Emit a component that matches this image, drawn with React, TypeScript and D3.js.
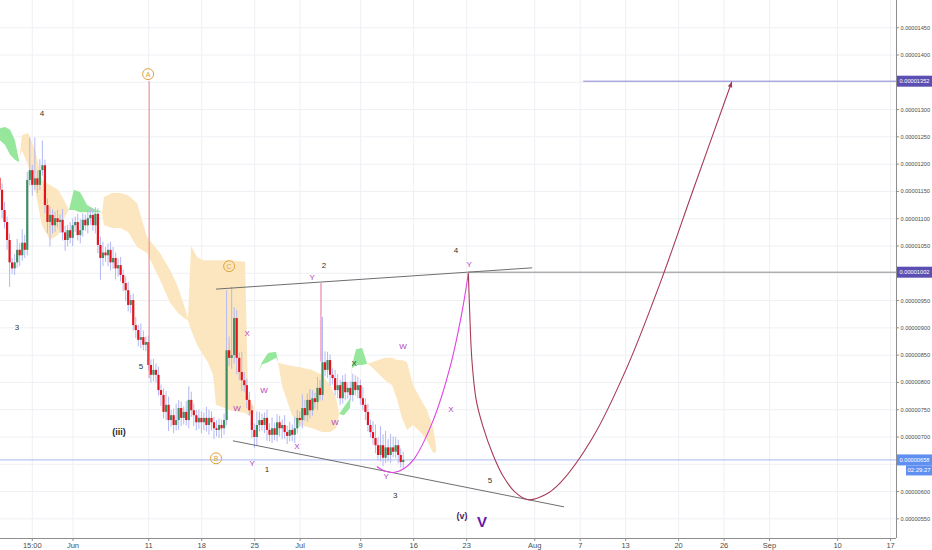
import React from "react";
import * as d3 from "d3";

const W = 932;
const H = 550;
const PLOT_R = 896;
const PLOT_B = 538;

// ---- candle data (prices in units of 1e-8) ----
const firstOpen = 1175;
const closes = [
  1153, 1116, 1094, 1061, 1020, 1009, 1020, 1043, 1033, 1056, 1043,
  1171, 1189, 1162, 1174, 1162, 1189, 1198,
  1125, 1094, 1107, 1088, 1101, 1094, 1098, 1075, 1061, 1079, 1065, 1088, 1094, 1070, 1079, 1098, 1088, 1101, 1107, 1088, 1109,
  1052, 1028, 1038, 1033, 1043, 1020, 1028, 1009, 1015, 997, 982, 969, 942, 951, 905, 896, 878, 883, 869, 874,
  832, 814, 823, 814, 786, 777, 746, 759, 731, 740, 722, 731, 753, 735, 746, 731, 768, 749, 740, 727, 735, 727, 735, 722, 735, 727, 716, 713, 722, 716, 731,
  859, 845, 850, 918, 845, 819, 804, 795, 768, 749,
  713, 700, 722, 731, 722, 735, 713, 704, 716, 704, 727, 716, 722, 709, 702, 713, 704, 716, 735, 731, 753, 740, 768, 749, 771, 764, 790, 777,
  837, 823, 841, 814, 808, 786, 795, 771, 801, 782, 790, 777, 801,
  786, 795, 771, 759, 746, 722, 709, 698, 685, 667, 685, 662, 681, 667, 681, 673, 685, 667, 654, 658,
];
const wickUp = [
  20, 12, 15, 10, 12, 8, 15, 20, 12, 25, 15,
  15, 60, 10, 75, 15, 20, 45,
  10, 12, 15, 10, 12, 15, 10, 20, 12, 10, 15, 12, 10, 15, 20, 12, 10, 15, 12, 10, 12,
  10, 15, 20, 10, 12, 15, 20, 10, 12, 15, 10, 12, 15, 10, 12, 15, 10, 25, 12, 10,
  12, 10, 20, 12, 15, 10, 12, 25, 15, 10, 12, 30, 15, 12, 10, 20, 25, 15, 12, 10, 15, 12, 10, 20, 15, 12, 10, 15, 12, 10, 12,
  110, 25, 125, 20, 15, 10, 37, 15, 12, 15,
  10, 12, 25, 15, 12, 10, 15, 12, 20, 10, 15, 12, 10, 18, 12, 15, 10, 20, 15, 12, 25, 15, 12, 20, 15, 10, 20, 15,
  83, 20, 15, 10, 12, 15, 20, 10, 12, 15, 10, 12, 15,
  12, 15, 10, 20, 12, 15, 10, 20, 25, 15, 35, 20, 30, 15, 25, 20, 15, 10, 12, 15,
];
const wickDn = [
  10, 15, 12, 18, 45, 10, 12, 10, 20, 10, 15,
  10, 10, 20, 10, 15, 10, 10,
  15, 20, 45, 15, 12, 10, 20, 15, 20, 12, 10, 15, 12, 10, 15, 12, 10, 15, 12, 10, 15,
  15, 40, 15, 12, 20, 15, 12, 20, 15, 12, 15, 20, 12, 15, 10, 15, 12, 15, 10, 12,
  10, 15, 12, 15, 10, 20, 12, 15, 20, 12, 15, 10, 18, 15, 12, 10, 15, 12, 20, 15, 12, 20, 15, 12, 18, 15, 20, 12, 15, 18, 12,
  10, 15, 20, 15, 30, 15, 20, 12, 15, 10,
  15, 20, 15, 12, 10, 15, 20, 12, 15, 10, 12, 15, 20, 12, 15, 10, 12, 15, 10, 12, 15, 10, 12, 15, 10, 12, 15, 10,
  10, 12, 15, 20, 12, 10, 15, 12, 10, 15, 12, 10, 12,
  10, 15, 12, 10, 15, 12, 10, 12, 15, 10, 12, 15, 10, 12, 15, 10, 12, 15, 10, 12,
];

// ---- Ichimoku cloud (bar index, span A, span B) ----
const cloudIdx = [
  0.2, 2.2, 4.2, 6.1, 7.7, 8.9, 11.3, 14.1, 16.8, 20.0, 23.2, 25.6, 27.5, 29.5, 31.9, 34.7, 37.5, 39.8, 40.6,
  41.4, 44.6, 47.8, 50.9, 54.5, 58.5, 63.6, 67.6, 70.7, 73.1, 74.7, 75.9, 78.3, 80.7, 82.6, 84.6, 85.8, 91.4,
  97.3, 98.5, 100.9, 102.5, 104.0, 106.4, 109.6, 110.4, 111.9, 115.9, 119.1, 123.9, 127.8, 131.0, 133.4,
  134.6, 136.5, 138.9, 139.7, 141.3, 143.7, 145.7, 147.6, 152.8, 155.6, 157.6, 159.5, 161.5, 163.9, 166.7,
  169.4, 171.8, 173.0,
];
const spanA = [
  1266, 1268, 1263, 1244, 1208, 1226, 1198, 1153, 1088, 1061, 1070, 1101, 1116, 1153, 1149, 1125, 1118, 1114, 1110,
  1088, 1083, 1083, 1076, 1048, 1037, 988, 946, 927, 918, 914, 896, 869, 850, 837, 814, 759, 749,
  744, 740, 744, 819, 837, 854, 856, 837, 795, 740, 722, 716, 709, 709, 716,
  742, 755, 771, 832, 861, 863, 834, 828, 804, 795, 768, 735, 713, 722, 709,
  694, 671, 672,
];
const spanB = [
  1244, 1235, 1217, 1208, 1204, 1253, 1257, 1226, 1171, 1162, 1153, 1134, 1116, 1116, 1112, 1112, 1112, 1112, 1110,
  1140, 1147, 1147, 1143, 1129, 1066, 1037, 1006, 975, 942, 918, 1050, 1030, 1024, 1024, 1024, 1024, 1024,
  1021, 777, 753, 819, 833, 837, 845, 837, 834, 830, 828, 823, 814, 795, 771,
  742, 740, 753, 826, 832, 832, 834, 837, 845, 845, 841, 841, 837, 795, 771,
  749, 718, 685,
];

// ---- axes ----
const priceGrid = [550, 600, 650, 700, 750, 800, 850, 900, 950, 1000, 1050, 1100, 1150, 1200, 1250, 1300, 1350, 1400, 1450];
const priceLabels = [550, 600, 700, 750, 800, 850, 900, 950, 1050, 1100, 1150, 1200, 1250, 1300, 1400, 1450];
const dateTickLabels = ["15:00", "Jun", "11", "18", "25", "Jul", "9", "16", "23", "Aug", "7", "13", "20", "26", "Sep", "10", "17"];
const dateTickDates = [
  Date.UTC(2018, 4, 26, 15), Date.UTC(2018, 5, 1), Date.UTC(2018, 5, 11), Date.UTC(2018, 5, 18), Date.UTC(2018, 5, 25),
  Date.UTC(2018, 6, 1), Date.UTC(2018, 6, 9), Date.UTC(2018, 6, 16), Date.UTC(2018, 6, 23), Date.UTC(2018, 7, 1),
  Date.UTC(2018, 7, 7), Date.UTC(2018, 7, 13), Date.UTC(2018, 7, 20), Date.UTC(2018, 7, 26), Date.UTC(2018, 8, 1),
  Date.UTC(2018, 8, 10), Date.UTC(2018, 8, 17),
];

// ---- drawings (bar index, price) ----
const upperTrend = [[85.8, 971], [211.1, 1010]];
const lowerTrend = [[92.5, 693], [223.7, 572]];
const lastPrice = 658;
const countdown = "02:29:27";
const level1002 = { start: 185.8, price: 1002 };
const level1352 = { start: 231.3, price: 1352 };
const lineA = { idx: 59.3, from: 1352, to: 808 };
const lineY2 = { idx: 127.4, from: 982, to: 838 };
const magentaPath = [
  [149.5, 646], [152.4, 638], [156.1, 635], [159.9, 641], [164.0, 658], [171.9, 731],
  [178.6, 829], [183.2, 927], [185.8, 1000],
];
const redPath = [
  [185.8, 1000], [186.3, 932], [187.2, 841], [188.9, 768], [191.6, 719], [195.6, 667], [199.6, 628],
  [204.3, 599], [209.6, 585], [216.2, 594], [222.2, 616], [235.2, 700], [248.7, 828], [261.8, 982],
  [274.9, 1153], [290.2, 1351],
];

const blackLabels = [
  { t: "4", i: 16.8, p: 1292 }, { t: "3", i: 6.9, p: 900 }, { t: "5", i: 56.1, p: 830 },
  { t: "2", i: 128.6, p: 1015 }, { t: "4", i: 180.9, p: 1041 }, { t: "1", i: 106.0, p: 641 },
  { t: "3", i: 156.8, p: 592 }, { t: "5", i: 194.4, p: 621 },
];
const purpleLabels = [
  { t: "X", i: 98.1, p: 889 }, { t: "W", i: 94.1, p: 753 }, { t: "W", i: 104.8, p: 786 },
  { t: "Y", i: 100.1, p: 651 }, { t: "X", i: 117.9, p: 682 }, { t: "W", i: 133.0, p: 727 },
  { t: "Y", i: 123.9, p: 993 }, { t: "W", i: 159.9, p: 865 }, { t: "X", i: 178.9, p: 751 },
  { t: "Y", i: 186.1, p: 1017 }, { t: "Y", i: 153.2, p: 627 },
];
const circleLabels = [
  { t: "A", i: 58.9, p: 1365 }, { t: "C", i: 91.0, p: 1013 }, { t: "B", i: 85.8, p: 661 },
];

const FONT = "'Liberation Sans', Arial, sans-serif";

const yS = d3.scaleLinear().domain([1400, 700]).range([55, 437]);
const tS = d3.scaleUtc()
  .domain([new Date(Date.UTC(2018, 5, 1)), new Date(Date.UTC(2018, 8, 17))])
  .range([73, 890.6]);
const START = Date.UTC(2018, 4, 22, 7);
const bx = (i: number) => tS(new Date(START + i * 8 * 3600 * 1000));

function cloudRuns() {
  type P = { i: number; a: number; b: number };
  const pts: P[] = [];
  for (let k = 0; k < cloudIdx.length; k++) {
    pts.push({ i: cloudIdx[k], a: spanA[k], b: spanB[k] });
    if (k < cloudIdx.length - 1) {
      const d1 = spanA[k] - spanB[k];
      const d2 = spanA[k + 1] - spanB[k + 1];
      if (d1 * d2 < 0) {
        const t = d1 / (d1 - d2);
        const i = cloudIdx[k] + t * (cloudIdx[k + 1] - cloudIdx[k]);
        const a = spanA[k] + t * (spanA[k + 1] - spanA[k]);
        pts.push({ i, a, b: a });
      }
    }
  }
  const runs: { sign: number; pts: P[] }[] = [];
  let cur: { sign: number; pts: P[] } = { sign: 0, pts: [] };
  for (const p of pts) {
    const d = p.a - p.b;
    const s = d > 0 ? 1 : d < 0 ? -1 : 0;
    if (s === 0) {
      cur.pts.push(p);
      if (cur.sign !== 0) runs.push(cur);
      cur = { sign: 0, pts: [p] };
    } else {
      if (cur.sign === 0) cur.sign = s;
      cur.pts.push(p);
    }
  }
  if (cur.sign !== 0) runs.push(cur);
  return runs;
}

function AxisLabel({ x, y, text, fill, len }: { x: number; y: number; text: string; fill: string; len: number }) {
  return (
    <text x={x} y={y} fontSize={6} fill={fill} dominantBaseline="central" textLength={len} lengthAdjust="spacingAndGlyphs">
      {text}
    </text>
  );
}

export default function App() {
  const opens = closes.map((c, i) => (i === 0 ? firstOpen : closes[i - 1]));
  const area = d3.area<any>()
    .x((d) => bx(d.i))
    .y0((d) => yS(d.b))
    .y1((d) => yS(d.a))
    .curve(d3.curveLinear);
  const runs = cloudRuns();

  const lineGen = d3.line<number[]>().x((d) => bx(d[0])).y((d) => yS(d[1]));
  const curveGen = d3.line<number[]>().x((d) => bx(d[0])).y((d) => yS(d[1])).curve(d3.curveCatmullRom.alpha(0.5));

  const n = redPath.length;
  const ex = bx(redPath[n - 1][0]), ey = yS(redPath[n - 1][1]);
  const px = bx(redPath[n - 2][0]), py = yS(redPath[n - 2][1]);
  const ang = Math.atan2(ey - py, ex - px);
  const ah = 6;
  const arrow = `M${ex},${ey} L${ex - ah * Math.cos(ang - 0.4)},${ey - ah * Math.sin(ang - 0.4)} L${ex - ah * Math.cos(ang + 0.4)},${ey - ah * Math.sin(ang + 0.4)} Z`;

  const fmt = (p: number) => (p / 1e8).toFixed(8);

  return (
    <svg width={W} height={H} style={{ position: "absolute", left: 0, top: 0, background: "#fff" }} fontFamily={FONT}>
      <defs>
        <clipPath id="plot">
          <rect x={0} y={0} width={PLOT_R} height={PLOT_B} />
        </clipPath>
      </defs>
      <rect x={0} y={0} width={W} height={H} fill="#fff" />
      <g clipPath="url(#plot)">
        {priceGrid.map((p) => (
          <line key={"hg" + p} x1={0} x2={PLOT_R} y1={yS(p)} y2={yS(p)} stroke="#eef0f4" strokeWidth={1} />
        ))}
        {dateTickDates.map((d, k) => (
          <line key={"vg" + k} x1={tS(new Date(d))} x2={tS(new Date(d))} y1={0} y2={PLOT_B} stroke="#eef0f4" strokeWidth={1} />
        ))}
        {runs.map((r, k) => (
          <path key={"c" + k} d={area(r.pts) || ""} fill={r.sign > 0 ? "#96e79c" : "#fce6bf"} />
        ))}
        <line x1={0} x2={PLOT_R} y1={yS(lastPrice)} y2={yS(lastPrice)} stroke="#a9b9f3" strokeWidth={1} />
        {closes.map((c, i) => {
          const o = opens[i];
          const hi = Math.max(o, c) + wickUp[i];
          const lo = Math.min(o, c) - wickDn[i];
          const x = bx(i);
          const up = c >= o;
          const yt = yS(Math.max(o, c));
          const yb = yS(Math.min(o, c));
          return (
            <g key={"k" + i}>
              <line x1={x} x2={x} y1={yS(hi)} y2={yS(lo)} stroke="#b3b8f0" strokeWidth={1} />
              <rect x={x - 1.1} y={yt} width={2.2} height={Math.max(1, yb - yt)} fill={up ? "#3d8d63" : "#e3141e"} />
            </g>
          );
        })}
        <line x1={bx(level1002.start)} x2={PLOT_R} y1={yS(level1002.price)} y2={yS(level1002.price)} stroke="#8d8d8d" strokeWidth={1} />
        <line x1={bx(level1352.start)} x2={PLOT_R} y1={yS(level1352.price)} y2={yS(level1352.price)} stroke="#8a82d6" strokeWidth={1} />
        <path d={lineGen(upperTrend as any) || ""} stroke="#6e6e6e" strokeWidth={1} fill="none" />
        <path d={lineGen(lowerTrend as any) || ""} stroke="#6e6e6e" strokeWidth={1} fill="none" />
        <line x1={bx(lineA.idx)} x2={bx(lineA.idx)} y1={yS(lineA.from)} y2={yS(lineA.to)} stroke="#f08585" strokeWidth={1} />
        <line x1={bx(lineY2.idx)} x2={bx(lineY2.idx)} y1={yS(lineY2.from)} y2={yS(lineY2.to)} stroke="#ea6c98" strokeWidth={1} />
        <path d={curveGen(magentaPath as any) || ""} stroke="#e040e6" strokeWidth={1.1} fill="none" />
        <path d={curveGen(redPath as any) || ""} stroke="#a83a55" strokeWidth={1.1} fill="none" />
        <path d={arrow} fill="#a83a55" />
        {blackLabels.map((l, k) => (
          <text key={"bl" + k} x={bx(l.i)} y={yS(l.p)} fontSize={8} fill="#333" textAnchor="middle" dominantBaseline="central">{l.t}</text>
        ))}
        {purpleLabels.map((l, k) => (
          <text key={"pl" + k} x={bx(l.i)} y={yS(l.p)} fontSize={8} fill="#b43cc0" textAnchor="middle" dominantBaseline="central">{l.t}</text>
        ))}
        <text x={bx(140.5)} y={yS(834)} fontSize={8} fill="#2f4a2f" textAnchor="middle" dominantBaseline="central">X</text>
        <text x={bx(47.4)} y={yS(709)} fontSize={9} fontWeight={600} fill="#2a2a2a" textAnchor="middle" dominantBaseline="central">(iii)</text>
        <text x={bx(183.3)} y={yS(555)} fontSize={9} fontWeight={600} fill="#4a2458" textAnchor="middle" dominantBaseline="central">(v)</text>
        <text x={bx(191.2)} y={yS(546)} fontSize={15} fontWeight={700} fill="#6a16a8" textAnchor="middle" dominantBaseline="central">V</text>
        {circleLabels.map((l, k) => (
          <g key={"cl" + k}>
            <circle cx={bx(l.i)} cy={yS(l.p)} r={5.5} fill="none" stroke="#e0a33c" strokeWidth={1} />
            <text x={bx(l.i)} y={yS(l.p) + 0.5} fontSize={7} fill="#e0a33c" textAnchor="middle" dominantBaseline="central">{l.t}</text>
          </g>
        ))}
      </g>
      {/* axes */}
      <line x1={PLOT_R + 0.5} x2={PLOT_R + 0.5} y1={0} y2={PLOT_B} stroke="#8e8e8e" strokeWidth={1} />
      <line x1={0} x2={PLOT_R} y1={PLOT_B + 0.5} y2={PLOT_B + 0.5} stroke="#8e8e8e" strokeWidth={1} />
      {priceLabels.map((p) => (
        <g key={"plab" + p}>
          <line x1={PLOT_R} x2={PLOT_R + 3} y1={yS(p)} y2={yS(p)} stroke="#8e8e8e" />
          <AxisLabel x={900.5} y={yS(p)} text={fmt(p)} fill="#4d4d4d" len={29.5} />
        </g>
      ))}
      {dateTickDates.map((d, k) => (
        <g key={"dl" + k}>
          <line x1={tS(new Date(d))} x2={tS(new Date(d))} y1={PLOT_B} y2={PLOT_B + 3} stroke="#8e8e8e" />
          <text x={tS(new Date(d))} y={545.5} fontSize={7.5} fill="#4d4d4d" textAnchor="middle" dominantBaseline="central">{dateTickLabels[k]}</text>
        </g>
      ))}
      {[level1352.price, level1002.price].map((p) => (
        <g key={"box" + p}>
          <rect x={897} y={yS(p) - 5.5} width={35} height={11} fill="#5c4fb3" />
          <AxisLabel x={899.5} y={yS(p)} text={fmt(p)} fill="#fff" len={30} />
        </g>
      ))}
      <rect x={897} y={yS(lastPrice) - 5.5} width={35} height={11} fill="#5f8ff0" />
      <AxisLabel x={899.5} y={yS(lastPrice)} text={fmt(lastPrice)} fill="#fff" len={30} />
      <rect x={906} y={yS(lastPrice) + 5.5} width={26} height={10} fill="#5f8ff0" />
      <AxisLabel x={907.5} y={yS(lastPrice) + 10.5} text={countdown} fill="#fff" len={23} />
    </svg>
  );
}
